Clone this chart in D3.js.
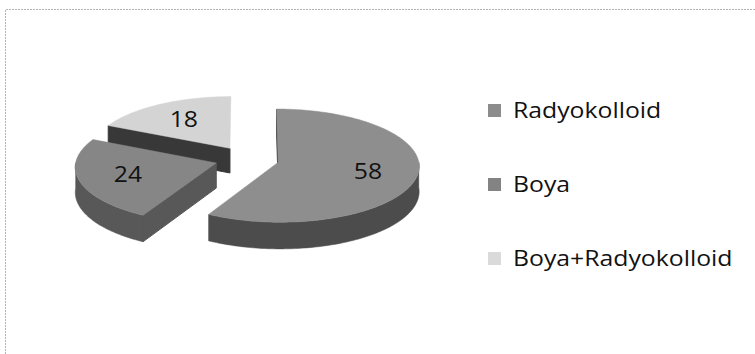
<!DOCTYPE html>
<html lang="tr">
<head>
<meta charset="UTF-8">
<title>Pie</title>
<style>
  body { margin: 0; background: #fff; }
  text { font-family: "Open Sans", sans-serif; fill: #111; }
</style>
</head>
<body>
<script src="https://cdn.jsdelivr.net/npm/d3@7"></script>
<script>
const categories = ["Radyokolloid", "Boya", "Boya+Radyokolloid"];
const values = [58, 24, 18];
const topColors = ["#8e8e8e", "#868686", "#d4d4d4"];
const sideColors = ["#4c4c4c", "#585858", "#383838"];
const legendColors = ["#8c8c8c", "#838383", "#dadada"];

const W = 755, H = 354;
const svg = d3.select("body").append("svg").attr("width", W).attr("height", H);

// scanned frame
svg.append("path").attr("d", "M5.5,354V9.5H755")
    .attr("fill", "none").attr("stroke", "#b4b4b4").attr("stroke-dasharray", "2,1");

// 3d pie projection (u right, w towards viewer, h = 0 top / 1 bottom)
const cx = 247, cy = 159, rx = 140, ry = 56, depth = 25, persp = 0.06, explode = 0.23;
const stretch = 1.18;

function proj(u, w, h) {
    const f = 1 / (1 - persp * w);
    return [cx + rx * u * f, cy + ry * w * f + depth * h * f];
}
function pt(s, r, a, h) {
    return proj(s.ou + r * Math.sin(a), s.ow - r * Math.cos(a), h);
}
function arcPts(s, a0, a1, h) {
    const n = Math.max(2, Math.ceil(Math.abs(a1 - a0) / 0.02));
    return d3.range(n + 1).map(i => pt(s, 1, a0 + (a1 - a0) * i / n, h));
}

const pie = d3.pie().sort(null).value(d => d)(values);
pie.forEach((s, i) => {
    const m = (s.startAngle + s.endAngle) / 2;
    s.i = i;
    s.ou = explode * Math.sin(m);
    s.ow = -explode * Math.cos(m);
});

const line = d3.line();
const g = svg.append("g");

// back slices first
const order = pie.slice().sort((a, b) => a.ow - b.ow);

order.forEach(s => {
    const a0 = s.startAngle, a1 = s.endAngle;
    const sg = g.append("g");
    const side = sideColors[s.i];

    // cut faces
    if (Math.sin(a0) <= 1e-9) {
        sg.append("path")
            .attr("d", line([pt(s, 0, a0, 0), pt(s, 1, a0, 0), pt(s, 1, a0, 1), pt(s, 0, a0, 1)]) + "Z")
            .attr("fill", side).attr("stroke", side).attr("stroke-width", 1);
    }
    if (Math.sin(a1) >= -1e-9 && a1 < 2 * Math.PI - 1e-6) {
        sg.append("path")
            .attr("d", line([pt(s, 0, a1, 0), pt(s, 1, a1, 0), pt(s, 1, a1, 1), pt(s, 0, a1, 1)]) + "Z")
            .attr("fill", side).attr("stroke", side).attr("stroke-width", 1);
    }

    // outer wall (front half only)
    const v0 = Math.max(a0, Math.PI / 2), v1 = Math.min(a1, 3 * Math.PI / 2);
    if (v1 > v0) {
        const pts = arcPts(s, v0, v1, 0).concat(arcPts(s, v1, v0, 1));
        sg.append("path").attr("d", line(pts) + "Z")
            .attr("fill", side).attr("stroke", side).attr("stroke-width", 0.5);
    }

    // top face
    const topPts = [pt(s, 0, a0, 0)].concat(arcPts(s, a0, a1, 0));
    sg.append("path").attr("d", line(topPts) + "Z")
        .attr("fill", topColors[s.i]).attr("stroke", topColors[s.i]).attr("stroke-width", 0.5);
});

// data labels
pie.forEach(s => {
    const m = (s.startAngle + s.endAngle) / 2;
    const [x, y] = pt(s, 0.65, m, 0);
    g.append("text")
        .attr("transform", `translate(${x},${y}) scale(${stretch},1)`)
        .attr("text-anchor", "middle")
        .attr("dy", "0.36em")
        .attr("font-size", 21)
        .text(values[s.i]);
});

// legend
const ly = d3.scalePoint().domain(categories).range([110.5, 258.5]);
const legend = svg.append("g");
legend.selectAll("rect").data(categories).join("rect")
    .attr("x", 488).attr("y", d => ly(d) - 6.5)
    .attr("width", 13).attr("height", 13)
    .attr("fill", (d, i) => legendColors[i]);
legend.selectAll("text").data(categories).join("text")
    .attr("transform", d => `translate(513,${ly(d) + 7}) scale(${stretch},1)`)
    .attr("font-size", 21)
    .text(d => d);
</script>
</body>
</html>
